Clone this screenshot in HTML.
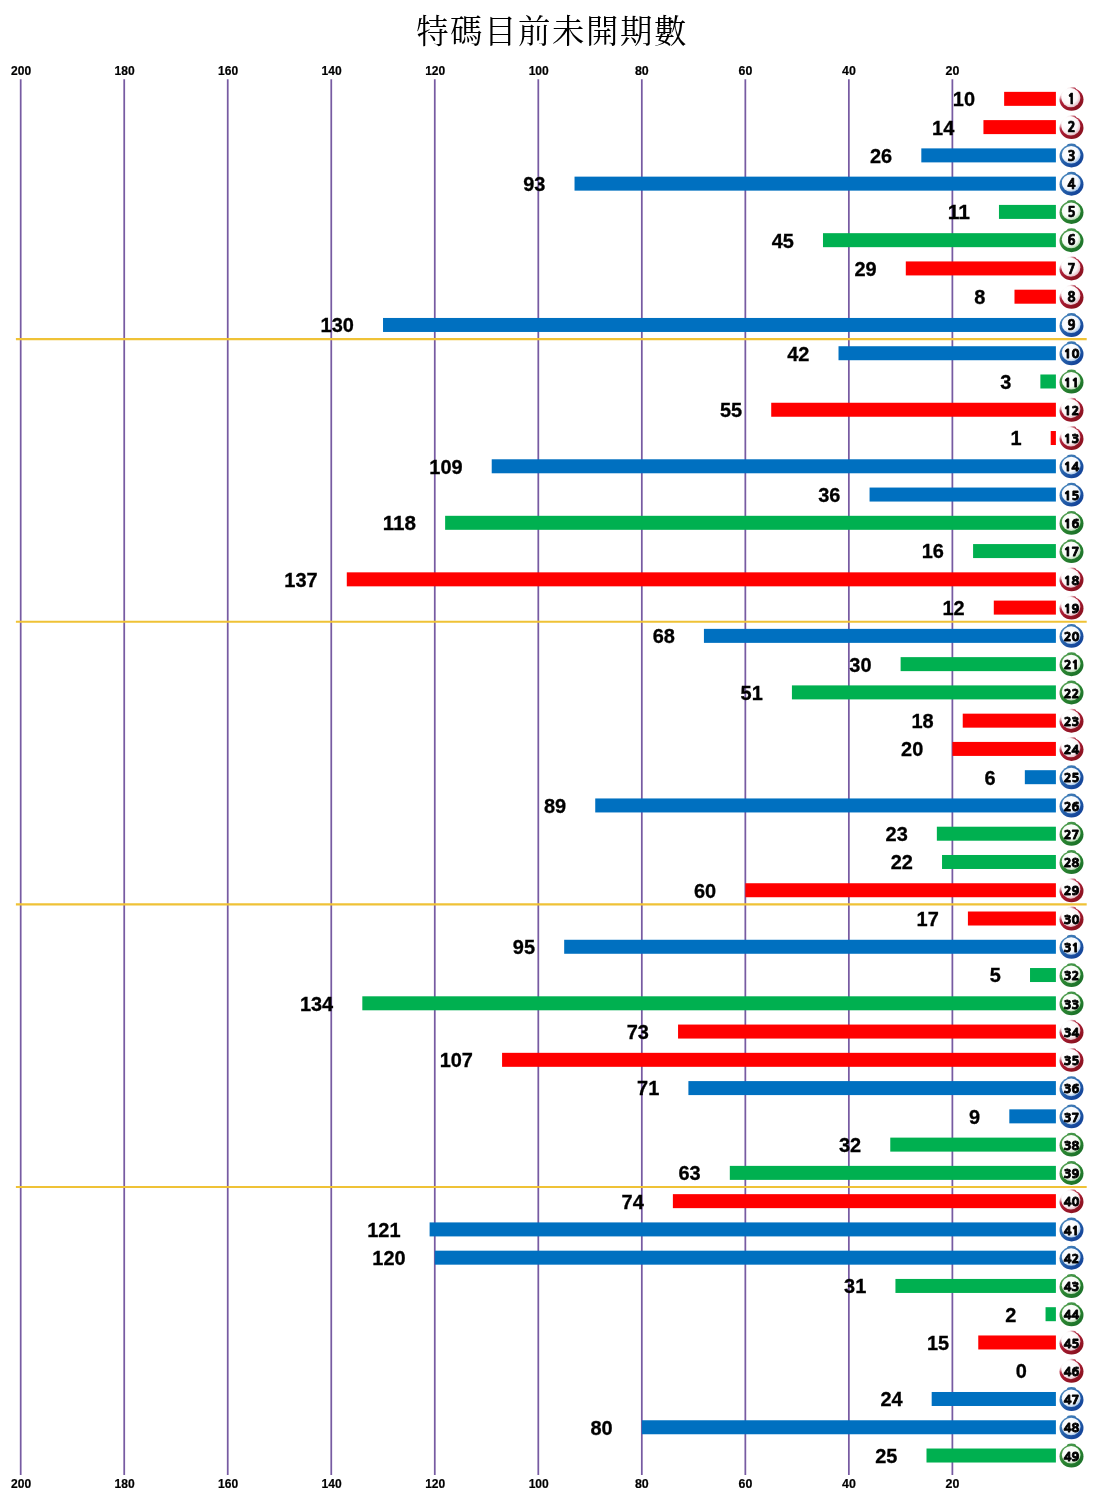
<!DOCTYPE html>
<html lang="zh-Hant">
<head>
<meta charset="utf-8">
<title>特碼目前未開期數</title>
<style>
html,body{margin:0;padding:0;background:#fff;}
body{width:1103px;height:1500px;overflow:hidden;}
svg{display:block;}
.ttl{font-family:"Liberation Serif","Noto Serif CJK SC",serif;font-size:32.4px;fill:#000;}
.ax{font-family:"Liberation Sans",sans-serif;font-weight:bold;font-size:12.3px;fill:#000;text-anchor:middle;stroke:#000;stroke-width:0.2px;}
.v{font-family:"Liberation Sans",sans-serif;font-weight:bold;font-size:19.8px;fill:#000;text-anchor:end;stroke:#000;stroke-width:0.3px;}
.n{font-family:"NanumGothic","Liberation Sans",sans-serif;font-weight:800;font-size:13.2px;fill:#000;text-anchor:middle;stroke:#000;stroke-width:0.7px;stroke-linejoin:round;}
</style>
</head>
<body>
<svg width="1103" height="1500" viewBox="0 0 1103 1500">
<defs>
<linearGradient id="gr" x1="0.1" y1="0.1" x2="0.85" y2="0.95"><stop offset="0" stop-color="#c9596b"/><stop offset="0.4" stop-color="#a81c33"/><stop offset="1" stop-color="#85101c"/></linearGradient>
<linearGradient id="gb" x1="0.1" y1="0.1" x2="0.85" y2="0.95"><stop offset="0" stop-color="#4a88bd"/><stop offset="0.5" stop-color="#245ea8"/><stop offset="1" stop-color="#103e96"/></linearGradient>
<linearGradient id="gg" x1="0.1" y1="0.1" x2="0.85" y2="0.95"><stop offset="0" stop-color="#55a052"/><stop offset="0.5" stop-color="#2a8431"/><stop offset="1" stop-color="#1a6f28"/></linearGradient>
<radialGradient id="wr" cx="0.42" cy="0.4" r="0.62"><stop offset="0" stop-color="#fff"/><stop offset="0.7" stop-color="#fbf6f7"/><stop offset="1" stop-color="#e3b9c1"/></radialGradient>
<radialGradient id="wb" cx="0.42" cy="0.4" r="0.62"><stop offset="0" stop-color="#fff"/><stop offset="0.7" stop-color="#f6f9fd"/><stop offset="1" stop-color="#a9c8e8"/></radialGradient>
<radialGradient id="wg" cx="0.42" cy="0.4" r="0.62"><stop offset="0" stop-color="#fff"/><stop offset="0.7" stop-color="#f7fbf6"/><stop offset="1" stop-color="#b5d9b1"/></radialGradient>
<radialGradient id="hl" gradientUnits="userSpaceOnUse" cx="-7" cy="-8.5" r="11"><stop offset="0" stop-color="#fff" stop-opacity="1"/><stop offset="0.55" stop-color="#fff" stop-opacity="0.9"/><stop offset="1" stop-color="#fff" stop-opacity="0"/></radialGradient>
</defs>
<rect width="1103" height="1500" fill="#fff"/>
<text class="ttl" x="416.1" y="42.8" textLength="270.4" lengthAdjust="spacing">特碼目前未開期數</text>

<g stroke="#775ba2" stroke-width="1.75">
<line x1="952.38" y1="79.2" x2="952.38" y2="1475.1"/>
<line x1="848.86" y1="79.2" x2="848.86" y2="1475.1"/>
<line x1="745.34" y1="79.2" x2="745.34" y2="1475.1"/>
<line x1="641.82" y1="79.2" x2="641.82" y2="1475.1"/>
<line x1="538.30" y1="79.2" x2="538.30" y2="1475.1"/>
<line x1="434.78" y1="79.2" x2="434.78" y2="1475.1"/>
<line x1="331.26" y1="79.2" x2="331.26" y2="1475.1"/>
<line x1="227.74" y1="79.2" x2="227.74" y2="1475.1"/>
<line x1="124.22" y1="79.2" x2="124.22" y2="1475.1"/>
<line x1="20.70" y1="79.2" x2="20.70" y2="1475.1"/>
</g>
<g class="ax">
<text x="952.43" y="74.95" textLength="13.8" lengthAdjust="spacingAndGlyphs">20</text><text x="952.43" y="1488.4" textLength="13.8" lengthAdjust="spacingAndGlyphs">20</text>
<text x="848.91" y="74.95" textLength="13.8" lengthAdjust="spacingAndGlyphs">40</text><text x="848.91" y="1488.4" textLength="13.8" lengthAdjust="spacingAndGlyphs">40</text>
<text x="745.39" y="74.95" textLength="13.8" lengthAdjust="spacingAndGlyphs">60</text><text x="745.39" y="1488.4" textLength="13.8" lengthAdjust="spacingAndGlyphs">60</text>
<text x="641.87" y="74.95" textLength="13.8" lengthAdjust="spacingAndGlyphs">80</text><text x="641.87" y="1488.4" textLength="13.8" lengthAdjust="spacingAndGlyphs">80</text>
<text x="538.70" y="74.95" textLength="20.1" lengthAdjust="spacingAndGlyphs">100</text><text x="538.70" y="1488.4" textLength="20.1" lengthAdjust="spacingAndGlyphs">100</text>
<text x="435.18" y="74.95" textLength="20.1" lengthAdjust="spacingAndGlyphs">120</text><text x="435.18" y="1488.4" textLength="20.1" lengthAdjust="spacingAndGlyphs">120</text>
<text x="331.66" y="74.95" textLength="20.1" lengthAdjust="spacingAndGlyphs">140</text><text x="331.66" y="1488.4" textLength="20.1" lengthAdjust="spacingAndGlyphs">140</text>
<text x="228.14" y="74.95" textLength="20.1" lengthAdjust="spacingAndGlyphs">160</text><text x="228.14" y="1488.4" textLength="20.1" lengthAdjust="spacingAndGlyphs">160</text>
<text x="124.62" y="74.95" textLength="20.1" lengthAdjust="spacingAndGlyphs">180</text><text x="124.62" y="1488.4" textLength="20.1" lengthAdjust="spacingAndGlyphs">180</text>
<text x="21.10" y="74.95" textLength="20.1" lengthAdjust="spacingAndGlyphs">200</text><text x="21.10" y="1488.4" textLength="20.1" lengthAdjust="spacingAndGlyphs">200</text>
</g>
<rect x="1004.14" y="91.85" width="51.76" height="14.0" fill="#ff0000"/>
<rect x="983.44" y="120.11" width="72.46" height="14.0" fill="#ff0000"/>
<rect x="921.32" y="148.38" width="134.58" height="14.0" fill="#0070c0"/>
<rect x="574.53" y="176.64" width="481.37" height="14.0" fill="#0070c0"/>
<rect x="998.96" y="204.91" width="56.94" height="14.0" fill="#00b050"/>
<rect x="822.98" y="233.17" width="232.92" height="14.0" fill="#00b050"/>
<rect x="905.80" y="261.43" width="150.10" height="14.0" fill="#ff0000"/>
<rect x="1014.49" y="289.70" width="41.41" height="14.0" fill="#ff0000"/>
<rect x="383.02" y="317.96" width="672.88" height="14.0" fill="#0070c0"/>
<rect x="838.51" y="346.23" width="217.39" height="14.0" fill="#0070c0"/>
<rect x="1040.37" y="374.49" width="15.53" height="14.0" fill="#00b050"/>
<rect x="771.22" y="402.75" width="284.68" height="14.0" fill="#ff0000"/>
<rect x="1050.72" y="431.02" width="5.18" height="14.0" fill="#ff0000"/>
<rect x="491.72" y="459.28" width="564.18" height="14.0" fill="#0070c0"/>
<rect x="869.56" y="487.55" width="186.34" height="14.0" fill="#0070c0"/>
<rect x="445.13" y="515.81" width="610.77" height="14.0" fill="#00b050"/>
<rect x="973.08" y="544.07" width="82.82" height="14.0" fill="#00b050"/>
<rect x="346.79" y="572.34" width="709.11" height="14.0" fill="#ff0000"/>
<rect x="993.79" y="600.60" width="62.11" height="14.0" fill="#ff0000"/>
<rect x="703.93" y="628.87" width="351.97" height="14.0" fill="#0070c0"/>
<rect x="900.62" y="657.13" width="155.28" height="14.0" fill="#00b050"/>
<rect x="791.92" y="685.39" width="263.98" height="14.0" fill="#00b050"/>
<rect x="962.73" y="713.66" width="93.17" height="14.0" fill="#ff0000"/>
<rect x="952.38" y="741.92" width="103.52" height="14.0" fill="#ff0000"/>
<rect x="1024.84" y="770.19" width="31.06" height="14.0" fill="#0070c0"/>
<rect x="595.24" y="798.45" width="460.66" height="14.0" fill="#0070c0"/>
<rect x="936.85" y="826.71" width="119.05" height="14.0" fill="#00b050"/>
<rect x="942.03" y="854.98" width="113.87" height="14.0" fill="#00b050"/>
<rect x="745.34" y="883.24" width="310.56" height="14.0" fill="#ff0000"/>
<rect x="967.91" y="911.51" width="87.99" height="14.0" fill="#ff0000"/>
<rect x="564.18" y="939.77" width="491.72" height="14.0" fill="#0070c0"/>
<rect x="1030.02" y="968.03" width="25.88" height="14.0" fill="#00b050"/>
<rect x="362.32" y="996.30" width="693.58" height="14.0" fill="#00b050"/>
<rect x="678.05" y="1024.56" width="377.85" height="14.0" fill="#ff0000"/>
<rect x="502.07" y="1052.83" width="553.83" height="14.0" fill="#ff0000"/>
<rect x="688.40" y="1081.09" width="367.50" height="14.0" fill="#0070c0"/>
<rect x="1009.32" y="1109.35" width="46.58" height="14.0" fill="#0070c0"/>
<rect x="890.27" y="1137.62" width="165.63" height="14.0" fill="#00b050"/>
<rect x="729.81" y="1165.88" width="326.09" height="14.0" fill="#00b050"/>
<rect x="672.88" y="1194.15" width="383.02" height="14.0" fill="#ff0000"/>
<rect x="429.60" y="1222.41" width="626.30" height="14.0" fill="#0070c0"/>
<rect x="434.78" y="1250.67" width="621.12" height="14.0" fill="#0070c0"/>
<rect x="895.44" y="1278.94" width="160.46" height="14.0" fill="#00b050"/>
<rect x="1045.55" y="1307.20" width="10.35" height="14.0" fill="#00b050"/>
<rect x="978.26" y="1335.47" width="77.64" height="14.0" fill="#ff0000"/>
<rect x="931.68" y="1391.99" width="124.22" height="14.0" fill="#0070c0"/>
<rect x="641.82" y="1420.26" width="414.08" height="14.0" fill="#0070c0"/>
<rect x="926.50" y="1448.52" width="129.40" height="14.0" fill="#00b050"/>
<g class="v">
<text x="975.04" y="106.25" textLength="22.2" lengthAdjust="spacingAndGlyphs">10</text>
<text x="954.34" y="134.51" textLength="22.2" lengthAdjust="spacingAndGlyphs">14</text>
<text x="892.22" y="162.78" textLength="22.2" lengthAdjust="spacingAndGlyphs">26</text>
<text x="545.43" y="191.04" textLength="22.2" lengthAdjust="spacingAndGlyphs">93</text>
<text x="969.86" y="219.31" textLength="22.2" lengthAdjust="spacingAndGlyphs">11</text>
<text x="793.88" y="247.57" textLength="22.2" lengthAdjust="spacingAndGlyphs">45</text>
<text x="876.70" y="275.83" textLength="22.2" lengthAdjust="spacingAndGlyphs">29</text>
<text x="985.39" y="304.10" textLength="11.1" lengthAdjust="spacingAndGlyphs">8</text>
<text x="353.92" y="332.36" textLength="33.3" lengthAdjust="spacingAndGlyphs">130</text>
<text x="809.41" y="360.63" textLength="22.2" lengthAdjust="spacingAndGlyphs">42</text>
<text x="1011.27" y="388.89" textLength="11.1" lengthAdjust="spacingAndGlyphs">3</text>
<text x="742.12" y="417.15" textLength="22.2" lengthAdjust="spacingAndGlyphs">55</text>
<text x="1021.62" y="445.42" textLength="11.1" lengthAdjust="spacingAndGlyphs">1</text>
<text x="462.62" y="473.68" textLength="33.3" lengthAdjust="spacingAndGlyphs">109</text>
<text x="840.46" y="501.95" textLength="22.2" lengthAdjust="spacingAndGlyphs">36</text>
<text x="416.03" y="530.21" textLength="33.3" lengthAdjust="spacingAndGlyphs">118</text>
<text x="943.98" y="558.47" textLength="22.2" lengthAdjust="spacingAndGlyphs">16</text>
<text x="317.69" y="586.74" textLength="33.3" lengthAdjust="spacingAndGlyphs">137</text>
<text x="964.69" y="615.00" textLength="22.2" lengthAdjust="spacingAndGlyphs">12</text>
<text x="674.83" y="643.27" textLength="22.2" lengthAdjust="spacingAndGlyphs">68</text>
<text x="871.52" y="671.53" textLength="22.2" lengthAdjust="spacingAndGlyphs">30</text>
<text x="762.82" y="699.79" textLength="22.2" lengthAdjust="spacingAndGlyphs">51</text>
<text x="933.63" y="728.06" textLength="22.2" lengthAdjust="spacingAndGlyphs">18</text>
<text x="923.28" y="756.32" textLength="22.2" lengthAdjust="spacingAndGlyphs">20</text>
<text x="995.74" y="784.59" textLength="11.1" lengthAdjust="spacingAndGlyphs">6</text>
<text x="566.14" y="812.85" textLength="22.2" lengthAdjust="spacingAndGlyphs">89</text>
<text x="907.75" y="841.11" textLength="22.2" lengthAdjust="spacingAndGlyphs">23</text>
<text x="912.93" y="869.38" textLength="22.2" lengthAdjust="spacingAndGlyphs">22</text>
<text x="716.24" y="897.64" textLength="22.2" lengthAdjust="spacingAndGlyphs">60</text>
<text x="938.81" y="925.91" textLength="22.2" lengthAdjust="spacingAndGlyphs">17</text>
<text x="535.08" y="954.17" textLength="22.2" lengthAdjust="spacingAndGlyphs">95</text>
<text x="1000.92" y="982.43" textLength="11.1" lengthAdjust="spacingAndGlyphs">5</text>
<text x="333.22" y="1010.70" textLength="33.3" lengthAdjust="spacingAndGlyphs">134</text>
<text x="648.95" y="1038.96" textLength="22.2" lengthAdjust="spacingAndGlyphs">73</text>
<text x="472.97" y="1067.23" textLength="33.3" lengthAdjust="spacingAndGlyphs">107</text>
<text x="659.30" y="1095.49" textLength="22.2" lengthAdjust="spacingAndGlyphs">71</text>
<text x="980.22" y="1123.75" textLength="11.1" lengthAdjust="spacingAndGlyphs">9</text>
<text x="861.17" y="1152.02" textLength="22.2" lengthAdjust="spacingAndGlyphs">32</text>
<text x="700.71" y="1180.28" textLength="22.2" lengthAdjust="spacingAndGlyphs">63</text>
<text x="643.78" y="1208.55" textLength="22.2" lengthAdjust="spacingAndGlyphs">74</text>
<text x="400.50" y="1236.81" textLength="33.3" lengthAdjust="spacingAndGlyphs">121</text>
<text x="405.68" y="1265.07" textLength="33.3" lengthAdjust="spacingAndGlyphs">120</text>
<text x="866.34" y="1293.34" textLength="22.2" lengthAdjust="spacingAndGlyphs">31</text>
<text x="1016.45" y="1321.60" textLength="11.1" lengthAdjust="spacingAndGlyphs">2</text>
<text x="949.16" y="1349.87" textLength="22.2" lengthAdjust="spacingAndGlyphs">15</text>
<text x="1026.80" y="1378.13" textLength="11.1" lengthAdjust="spacingAndGlyphs">0</text>
<text x="902.58" y="1406.39" textLength="22.2" lengthAdjust="spacingAndGlyphs">24</text>
<text x="612.72" y="1434.66" textLength="22.2" lengthAdjust="spacingAndGlyphs">80</text>
<text x="897.40" y="1462.92" textLength="22.2" lengthAdjust="spacingAndGlyphs">25</text>
</g>
<g transform="translate(1071.5 98.85)"><ellipse cx="0" cy="-9.9" rx="4.6" ry="2" fill="#b43a50"/><ellipse cx="0" cy="0.7" rx="12" ry="11.3" fill="url(#gr)"/><circle cx="-0.6" cy="-1.1" r="9.5" fill="url(#wr)"/><circle r="13" fill="url(#hl)"/></g>
<g transform="translate(1071.5 127.11)"><ellipse cx="0" cy="-9.9" rx="4.6" ry="2" fill="#b43a50"/><ellipse cx="0" cy="0.7" rx="12" ry="11.3" fill="url(#gr)"/><circle cx="-0.6" cy="-1.1" r="9.5" fill="url(#wr)"/><circle r="13" fill="url(#hl)"/></g>
<g transform="translate(1071.5 155.38)"><ellipse cx="0" cy="-9.9" rx="4.6" ry="2" fill="#3b77b4"/><ellipse cx="0" cy="0.7" rx="12" ry="11.3" fill="url(#gb)"/><ellipse cx="-0.3" cy="-0.7" rx="9.4" ry="8.8" fill="url(#wb)"/></g>
<g transform="translate(1071.5 183.64)"><ellipse cx="0" cy="-9.9" rx="4.6" ry="2" fill="#3b77b4"/><ellipse cx="0" cy="0.7" rx="12" ry="11.3" fill="url(#gb)"/><ellipse cx="-0.3" cy="-0.7" rx="9.4" ry="8.8" fill="url(#wb)"/></g>
<g transform="translate(1071.5 211.91)"><ellipse cx="0" cy="-9.9" rx="4.6" ry="2" fill="#43964a"/><ellipse cx="0" cy="0.7" rx="12" ry="11.3" fill="url(#gg)"/><ellipse cx="-0.3" cy="-0.7" rx="9.4" ry="8.8" fill="url(#wg)"/></g>
<g transform="translate(1071.5 240.17)"><ellipse cx="0" cy="-9.9" rx="4.6" ry="2" fill="#43964a"/><ellipse cx="0" cy="0.7" rx="12" ry="11.3" fill="url(#gg)"/><ellipse cx="-0.3" cy="-0.7" rx="9.4" ry="8.8" fill="url(#wg)"/></g>
<g transform="translate(1071.5 268.43)"><ellipse cx="0" cy="-9.9" rx="4.6" ry="2" fill="#b43a50"/><ellipse cx="0" cy="0.7" rx="12" ry="11.3" fill="url(#gr)"/><circle cx="-0.6" cy="-1.1" r="9.5" fill="url(#wr)"/><circle r="13" fill="url(#hl)"/></g>
<g transform="translate(1071.5 296.70)"><ellipse cx="0" cy="-9.9" rx="4.6" ry="2" fill="#b43a50"/><ellipse cx="0" cy="0.7" rx="12" ry="11.3" fill="url(#gr)"/><circle cx="-0.6" cy="-1.1" r="9.5" fill="url(#wr)"/><circle r="13" fill="url(#hl)"/></g>
<g transform="translate(1071.5 324.96)"><ellipse cx="0" cy="-9.9" rx="4.6" ry="2" fill="#3b77b4"/><ellipse cx="0" cy="0.7" rx="12" ry="11.3" fill="url(#gb)"/><ellipse cx="-0.3" cy="-0.7" rx="9.4" ry="8.8" fill="url(#wb)"/></g>
<g transform="translate(1071.5 353.23)"><ellipse cx="0" cy="-9.9" rx="4.6" ry="2" fill="#3b77b4"/><ellipse cx="0" cy="0.7" rx="12" ry="11.3" fill="url(#gb)"/><ellipse cx="-0.3" cy="-0.7" rx="9.4" ry="8.8" fill="url(#wb)"/></g>
<g transform="translate(1071.5 381.49)"><ellipse cx="0" cy="-9.9" rx="4.6" ry="2" fill="#43964a"/><ellipse cx="0" cy="0.7" rx="12" ry="11.3" fill="url(#gg)"/><ellipse cx="-0.3" cy="-0.7" rx="9.4" ry="8.8" fill="url(#wg)"/></g>
<g transform="translate(1071.5 409.75)"><ellipse cx="0" cy="-9.9" rx="4.6" ry="2" fill="#b43a50"/><ellipse cx="0" cy="0.7" rx="12" ry="11.3" fill="url(#gr)"/><circle cx="-0.6" cy="-1.1" r="9.5" fill="url(#wr)"/><circle r="13" fill="url(#hl)"/></g>
<g transform="translate(1071.5 438.02)"><ellipse cx="0" cy="-9.9" rx="4.6" ry="2" fill="#b43a50"/><ellipse cx="0" cy="0.7" rx="12" ry="11.3" fill="url(#gr)"/><circle cx="-0.6" cy="-1.1" r="9.5" fill="url(#wr)"/><circle r="13" fill="url(#hl)"/></g>
<g transform="translate(1071.5 466.28)"><ellipse cx="0" cy="-9.9" rx="4.6" ry="2" fill="#3b77b4"/><ellipse cx="0" cy="0.7" rx="12" ry="11.3" fill="url(#gb)"/><ellipse cx="-0.3" cy="-0.7" rx="9.4" ry="8.8" fill="url(#wb)"/></g>
<g transform="translate(1071.5 494.55)"><ellipse cx="0" cy="-9.9" rx="4.6" ry="2" fill="#3b77b4"/><ellipse cx="0" cy="0.7" rx="12" ry="11.3" fill="url(#gb)"/><ellipse cx="-0.3" cy="-0.7" rx="9.4" ry="8.8" fill="url(#wb)"/></g>
<g transform="translate(1071.5 522.81)"><ellipse cx="0" cy="-9.9" rx="4.6" ry="2" fill="#43964a"/><ellipse cx="0" cy="0.7" rx="12" ry="11.3" fill="url(#gg)"/><ellipse cx="-0.3" cy="-0.7" rx="9.4" ry="8.8" fill="url(#wg)"/></g>
<g transform="translate(1071.5 551.07)"><ellipse cx="0" cy="-9.9" rx="4.6" ry="2" fill="#43964a"/><ellipse cx="0" cy="0.7" rx="12" ry="11.3" fill="url(#gg)"/><ellipse cx="-0.3" cy="-0.7" rx="9.4" ry="8.8" fill="url(#wg)"/></g>
<g transform="translate(1071.5 579.34)"><ellipse cx="0" cy="-9.9" rx="4.6" ry="2" fill="#b43a50"/><ellipse cx="0" cy="0.7" rx="12" ry="11.3" fill="url(#gr)"/><circle cx="-0.6" cy="-1.1" r="9.5" fill="url(#wr)"/><circle r="13" fill="url(#hl)"/></g>
<g transform="translate(1071.5 607.60)"><ellipse cx="0" cy="-9.9" rx="4.6" ry="2" fill="#b43a50"/><ellipse cx="0" cy="0.7" rx="12" ry="11.3" fill="url(#gr)"/><circle cx="-0.6" cy="-1.1" r="9.5" fill="url(#wr)"/><circle r="13" fill="url(#hl)"/></g>
<g transform="translate(1071.5 635.87)"><ellipse cx="0" cy="-9.9" rx="4.6" ry="2" fill="#3b77b4"/><ellipse cx="0" cy="0.7" rx="12" ry="11.3" fill="url(#gb)"/><ellipse cx="-0.3" cy="-0.7" rx="9.4" ry="8.8" fill="url(#wb)"/></g>
<g transform="translate(1071.5 664.13)"><ellipse cx="0" cy="-9.9" rx="4.6" ry="2" fill="#43964a"/><ellipse cx="0" cy="0.7" rx="12" ry="11.3" fill="url(#gg)"/><ellipse cx="-0.3" cy="-0.7" rx="9.4" ry="8.8" fill="url(#wg)"/></g>
<g transform="translate(1071.5 692.39)"><ellipse cx="0" cy="-9.9" rx="4.6" ry="2" fill="#43964a"/><ellipse cx="0" cy="0.7" rx="12" ry="11.3" fill="url(#gg)"/><ellipse cx="-0.3" cy="-0.7" rx="9.4" ry="8.8" fill="url(#wg)"/></g>
<g transform="translate(1071.5 720.66)"><ellipse cx="0" cy="-9.9" rx="4.6" ry="2" fill="#b43a50"/><ellipse cx="0" cy="0.7" rx="12" ry="11.3" fill="url(#gr)"/><circle cx="-0.6" cy="-1.1" r="9.5" fill="url(#wr)"/><circle r="13" fill="url(#hl)"/></g>
<g transform="translate(1071.5 748.92)"><ellipse cx="0" cy="-9.9" rx="4.6" ry="2" fill="#b43a50"/><ellipse cx="0" cy="0.7" rx="12" ry="11.3" fill="url(#gr)"/><circle cx="-0.6" cy="-1.1" r="9.5" fill="url(#wr)"/><circle r="13" fill="url(#hl)"/></g>
<g transform="translate(1071.5 777.19)"><ellipse cx="0" cy="-9.9" rx="4.6" ry="2" fill="#3b77b4"/><ellipse cx="0" cy="0.7" rx="12" ry="11.3" fill="url(#gb)"/><ellipse cx="-0.3" cy="-0.7" rx="9.4" ry="8.8" fill="url(#wb)"/></g>
<g transform="translate(1071.5 805.45)"><ellipse cx="0" cy="-9.9" rx="4.6" ry="2" fill="#3b77b4"/><ellipse cx="0" cy="0.7" rx="12" ry="11.3" fill="url(#gb)"/><ellipse cx="-0.3" cy="-0.7" rx="9.4" ry="8.8" fill="url(#wb)"/></g>
<g transform="translate(1071.5 833.71)"><ellipse cx="0" cy="-9.9" rx="4.6" ry="2" fill="#43964a"/><ellipse cx="0" cy="0.7" rx="12" ry="11.3" fill="url(#gg)"/><ellipse cx="-0.3" cy="-0.7" rx="9.4" ry="8.8" fill="url(#wg)"/></g>
<g transform="translate(1071.5 861.98)"><ellipse cx="0" cy="-9.9" rx="4.6" ry="2" fill="#43964a"/><ellipse cx="0" cy="0.7" rx="12" ry="11.3" fill="url(#gg)"/><ellipse cx="-0.3" cy="-0.7" rx="9.4" ry="8.8" fill="url(#wg)"/></g>
<g transform="translate(1071.5 890.24)"><ellipse cx="0" cy="-9.9" rx="4.6" ry="2" fill="#b43a50"/><ellipse cx="0" cy="0.7" rx="12" ry="11.3" fill="url(#gr)"/><circle cx="-0.6" cy="-1.1" r="9.5" fill="url(#wr)"/><circle r="13" fill="url(#hl)"/></g>
<g transform="translate(1071.5 918.51)"><ellipse cx="0" cy="-9.9" rx="4.6" ry="2" fill="#b43a50"/><ellipse cx="0" cy="0.7" rx="12" ry="11.3" fill="url(#gr)"/><circle cx="-0.6" cy="-1.1" r="9.5" fill="url(#wr)"/><circle r="13" fill="url(#hl)"/></g>
<g transform="translate(1071.5 946.77)"><ellipse cx="0" cy="-9.9" rx="4.6" ry="2" fill="#3b77b4"/><ellipse cx="0" cy="0.7" rx="12" ry="11.3" fill="url(#gb)"/><ellipse cx="-0.3" cy="-0.7" rx="9.4" ry="8.8" fill="url(#wb)"/></g>
<g transform="translate(1071.5 975.03)"><ellipse cx="0" cy="-9.9" rx="4.6" ry="2" fill="#43964a"/><ellipse cx="0" cy="0.7" rx="12" ry="11.3" fill="url(#gg)"/><ellipse cx="-0.3" cy="-0.7" rx="9.4" ry="8.8" fill="url(#wg)"/></g>
<g transform="translate(1071.5 1003.30)"><ellipse cx="0" cy="-9.9" rx="4.6" ry="2" fill="#43964a"/><ellipse cx="0" cy="0.7" rx="12" ry="11.3" fill="url(#gg)"/><ellipse cx="-0.3" cy="-0.7" rx="9.4" ry="8.8" fill="url(#wg)"/></g>
<g transform="translate(1071.5 1031.56)"><ellipse cx="0" cy="-9.9" rx="4.6" ry="2" fill="#b43a50"/><ellipse cx="0" cy="0.7" rx="12" ry="11.3" fill="url(#gr)"/><circle cx="-0.6" cy="-1.1" r="9.5" fill="url(#wr)"/><circle r="13" fill="url(#hl)"/></g>
<g transform="translate(1071.5 1059.83)"><ellipse cx="0" cy="-9.9" rx="4.6" ry="2" fill="#b43a50"/><ellipse cx="0" cy="0.7" rx="12" ry="11.3" fill="url(#gr)"/><circle cx="-0.6" cy="-1.1" r="9.5" fill="url(#wr)"/><circle r="13" fill="url(#hl)"/></g>
<g transform="translate(1071.5 1088.09)"><ellipse cx="0" cy="-9.9" rx="4.6" ry="2" fill="#3b77b4"/><ellipse cx="0" cy="0.7" rx="12" ry="11.3" fill="url(#gb)"/><ellipse cx="-0.3" cy="-0.7" rx="9.4" ry="8.8" fill="url(#wb)"/></g>
<g transform="translate(1071.5 1116.35)"><ellipse cx="0" cy="-9.9" rx="4.6" ry="2" fill="#3b77b4"/><ellipse cx="0" cy="0.7" rx="12" ry="11.3" fill="url(#gb)"/><ellipse cx="-0.3" cy="-0.7" rx="9.4" ry="8.8" fill="url(#wb)"/></g>
<g transform="translate(1071.5 1144.62)"><ellipse cx="0" cy="-9.9" rx="4.6" ry="2" fill="#43964a"/><ellipse cx="0" cy="0.7" rx="12" ry="11.3" fill="url(#gg)"/><ellipse cx="-0.3" cy="-0.7" rx="9.4" ry="8.8" fill="url(#wg)"/></g>
<g transform="translate(1071.5 1172.88)"><ellipse cx="0" cy="-9.9" rx="4.6" ry="2" fill="#43964a"/><ellipse cx="0" cy="0.7" rx="12" ry="11.3" fill="url(#gg)"/><ellipse cx="-0.3" cy="-0.7" rx="9.4" ry="8.8" fill="url(#wg)"/></g>
<g transform="translate(1071.5 1201.15)"><ellipse cx="0" cy="-9.9" rx="4.6" ry="2" fill="#b43a50"/><ellipse cx="0" cy="0.7" rx="12" ry="11.3" fill="url(#gr)"/><circle cx="-0.6" cy="-1.1" r="9.5" fill="url(#wr)"/><circle r="13" fill="url(#hl)"/></g>
<g transform="translate(1071.5 1229.41)"><ellipse cx="0" cy="-9.9" rx="4.6" ry="2" fill="#3b77b4"/><ellipse cx="0" cy="0.7" rx="12" ry="11.3" fill="url(#gb)"/><ellipse cx="-0.3" cy="-0.7" rx="9.4" ry="8.8" fill="url(#wb)"/></g>
<g transform="translate(1071.5 1257.67)"><ellipse cx="0" cy="-9.9" rx="4.6" ry="2" fill="#3b77b4"/><ellipse cx="0" cy="0.7" rx="12" ry="11.3" fill="url(#gb)"/><ellipse cx="-0.3" cy="-0.7" rx="9.4" ry="8.8" fill="url(#wb)"/></g>
<g transform="translate(1071.5 1285.94)"><ellipse cx="0" cy="-9.9" rx="4.6" ry="2" fill="#43964a"/><ellipse cx="0" cy="0.7" rx="12" ry="11.3" fill="url(#gg)"/><ellipse cx="-0.3" cy="-0.7" rx="9.4" ry="8.8" fill="url(#wg)"/></g>
<g transform="translate(1071.5 1314.20)"><ellipse cx="0" cy="-9.9" rx="4.6" ry="2" fill="#43964a"/><ellipse cx="0" cy="0.7" rx="12" ry="11.3" fill="url(#gg)"/><ellipse cx="-0.3" cy="-0.7" rx="9.4" ry="8.8" fill="url(#wg)"/></g>
<g transform="translate(1071.5 1342.47)"><ellipse cx="0" cy="-9.9" rx="4.6" ry="2" fill="#b43a50"/><ellipse cx="0" cy="0.7" rx="12" ry="11.3" fill="url(#gr)"/><circle cx="-0.6" cy="-1.1" r="9.5" fill="url(#wr)"/><circle r="13" fill="url(#hl)"/></g>
<g transform="translate(1071.5 1370.73)"><ellipse cx="0" cy="-9.9" rx="4.6" ry="2" fill="#b43a50"/><ellipse cx="0" cy="0.7" rx="12" ry="11.3" fill="url(#gr)"/><circle cx="-0.6" cy="-1.1" r="9.5" fill="url(#wr)"/><circle r="13" fill="url(#hl)"/></g>
<g transform="translate(1071.5 1398.99)"><ellipse cx="0" cy="-9.9" rx="4.6" ry="2" fill="#3b77b4"/><ellipse cx="0" cy="0.7" rx="12" ry="11.3" fill="url(#gb)"/><ellipse cx="-0.3" cy="-0.7" rx="9.4" ry="8.8" fill="url(#wb)"/></g>
<g transform="translate(1071.5 1427.26)"><ellipse cx="0" cy="-9.9" rx="4.6" ry="2" fill="#3b77b4"/><ellipse cx="0" cy="0.7" rx="12" ry="11.3" fill="url(#gb)"/><ellipse cx="-0.3" cy="-0.7" rx="9.4" ry="8.8" fill="url(#wb)"/></g>
<g transform="translate(1071.5 1455.52)"><ellipse cx="0" cy="-9.9" rx="4.6" ry="2" fill="#43964a"/><ellipse cx="0" cy="0.7" rx="12" ry="11.3" fill="url(#gg)"/><ellipse cx="-0.3" cy="-0.7" rx="9.4" ry="8.8" fill="url(#wg)"/></g>
<g class="n">
<text x="1071.4" y="104.05">1</text>
<text x="1071.4" y="132.31">2</text>
<text x="1071.4" y="160.58">3</text>
<text x="1071.4" y="188.84">4</text>
<text x="1071.4" y="217.11">5</text>
<text x="1071.4" y="245.37">6</text>
<text x="1071.4" y="273.63">7</text>
<text x="1071.4" y="301.90">8</text>
<text x="1071.4" y="330.16">9</text>
<text x="1071.4" y="358.43" textLength="15.5" lengthAdjust="spacingAndGlyphs" font-size="12.6" stroke-width="0.85">10</text>
<text x="1071.4" y="386.69" textLength="15.5" lengthAdjust="spacingAndGlyphs" font-size="12.6" stroke-width="0.85">11</text>
<text x="1071.4" y="414.95" textLength="15.5" lengthAdjust="spacingAndGlyphs" font-size="12.6" stroke-width="0.85">12</text>
<text x="1071.4" y="443.22" textLength="15.5" lengthAdjust="spacingAndGlyphs" font-size="12.6" stroke-width="0.85">13</text>
<text x="1071.4" y="471.48" textLength="15.5" lengthAdjust="spacingAndGlyphs" font-size="12.6" stroke-width="0.85">14</text>
<text x="1071.4" y="499.75" textLength="15.5" lengthAdjust="spacingAndGlyphs" font-size="12.6" stroke-width="0.85">15</text>
<text x="1071.4" y="528.01" textLength="15.5" lengthAdjust="spacingAndGlyphs" font-size="12.6" stroke-width="0.85">16</text>
<text x="1071.4" y="556.27" textLength="15.5" lengthAdjust="spacingAndGlyphs" font-size="12.6" stroke-width="0.85">17</text>
<text x="1071.4" y="584.54" textLength="15.5" lengthAdjust="spacingAndGlyphs" font-size="12.6" stroke-width="0.85">18</text>
<text x="1071.4" y="612.80" textLength="15.5" lengthAdjust="spacingAndGlyphs" font-size="12.6" stroke-width="0.85">19</text>
<text x="1071.4" y="641.07" textLength="15.5" lengthAdjust="spacingAndGlyphs" font-size="12.6" stroke-width="0.85">20</text>
<text x="1071.4" y="669.33" textLength="15.5" lengthAdjust="spacingAndGlyphs" font-size="12.6" stroke-width="0.85">21</text>
<text x="1071.4" y="697.59" textLength="15.5" lengthAdjust="spacingAndGlyphs" font-size="12.6" stroke-width="0.85">22</text>
<text x="1071.4" y="725.86" textLength="15.5" lengthAdjust="spacingAndGlyphs" font-size="12.6" stroke-width="0.85">23</text>
<text x="1071.4" y="754.12" textLength="15.5" lengthAdjust="spacingAndGlyphs" font-size="12.6" stroke-width="0.85">24</text>
<text x="1071.4" y="782.39" textLength="15.5" lengthAdjust="spacingAndGlyphs" font-size="12.6" stroke-width="0.85">25</text>
<text x="1071.4" y="810.65" textLength="15.5" lengthAdjust="spacingAndGlyphs" font-size="12.6" stroke-width="0.85">26</text>
<text x="1071.4" y="838.91" textLength="15.5" lengthAdjust="spacingAndGlyphs" font-size="12.6" stroke-width="0.85">27</text>
<text x="1071.4" y="867.18" textLength="15.5" lengthAdjust="spacingAndGlyphs" font-size="12.6" stroke-width="0.85">28</text>
<text x="1071.4" y="895.44" textLength="15.5" lengthAdjust="spacingAndGlyphs" font-size="12.6" stroke-width="0.85">29</text>
<text x="1071.4" y="923.71" textLength="15.5" lengthAdjust="spacingAndGlyphs" font-size="12.6" stroke-width="0.85">30</text>
<text x="1071.4" y="951.97" textLength="15.5" lengthAdjust="spacingAndGlyphs" font-size="12.6" stroke-width="0.85">31</text>
<text x="1071.4" y="980.23" textLength="15.5" lengthAdjust="spacingAndGlyphs" font-size="12.6" stroke-width="0.85">32</text>
<text x="1071.4" y="1008.50" textLength="15.5" lengthAdjust="spacingAndGlyphs" font-size="12.6" stroke-width="0.85">33</text>
<text x="1071.4" y="1036.76" textLength="15.5" lengthAdjust="spacingAndGlyphs" font-size="12.6" stroke-width="0.85">34</text>
<text x="1071.4" y="1065.03" textLength="15.5" lengthAdjust="spacingAndGlyphs" font-size="12.6" stroke-width="0.85">35</text>
<text x="1071.4" y="1093.29" textLength="15.5" lengthAdjust="spacingAndGlyphs" font-size="12.6" stroke-width="0.85">36</text>
<text x="1071.4" y="1121.55" textLength="15.5" lengthAdjust="spacingAndGlyphs" font-size="12.6" stroke-width="0.85">37</text>
<text x="1071.4" y="1149.82" textLength="15.5" lengthAdjust="spacingAndGlyphs" font-size="12.6" stroke-width="0.85">38</text>
<text x="1071.4" y="1178.08" textLength="15.5" lengthAdjust="spacingAndGlyphs" font-size="12.6" stroke-width="0.85">39</text>
<text x="1071.4" y="1206.35" textLength="15.5" lengthAdjust="spacingAndGlyphs" font-size="12.6" stroke-width="0.85">40</text>
<text x="1071.4" y="1234.61" textLength="15.5" lengthAdjust="spacingAndGlyphs" font-size="12.6" stroke-width="0.85">41</text>
<text x="1071.4" y="1262.87" textLength="15.5" lengthAdjust="spacingAndGlyphs" font-size="12.6" stroke-width="0.85">42</text>
<text x="1071.4" y="1291.14" textLength="15.5" lengthAdjust="spacingAndGlyphs" font-size="12.6" stroke-width="0.85">43</text>
<text x="1071.4" y="1319.40" textLength="15.5" lengthAdjust="spacingAndGlyphs" font-size="12.6" stroke-width="0.85">44</text>
<text x="1071.4" y="1347.67" textLength="15.5" lengthAdjust="spacingAndGlyphs" font-size="12.6" stroke-width="0.85">45</text>
<text x="1071.4" y="1375.93" textLength="15.5" lengthAdjust="spacingAndGlyphs" font-size="12.6" stroke-width="0.85">46</text>
<text x="1071.4" y="1404.19" textLength="15.5" lengthAdjust="spacingAndGlyphs" font-size="12.6" stroke-width="0.85">47</text>
<text x="1071.4" y="1432.46" textLength="15.5" lengthAdjust="spacingAndGlyphs" font-size="12.6" stroke-width="0.85">48</text>
<text x="1071.4" y="1460.72" textLength="15.5" lengthAdjust="spacingAndGlyphs" font-size="12.6" stroke-width="0.85">49</text>
</g>
<g stroke="#efc236" stroke-width="2.2">
<line x1="15.9" y1="339.09" x2="1086.7" y2="339.09"/>
<line x1="15.9" y1="621.73" x2="1086.7" y2="621.73"/>
<line x1="15.9" y1="904.37" x2="1086.7" y2="904.37"/>
<line x1="15.9" y1="1187.01" x2="1086.7" y2="1187.01"/>
</g>
</svg>
</body>
</html>
